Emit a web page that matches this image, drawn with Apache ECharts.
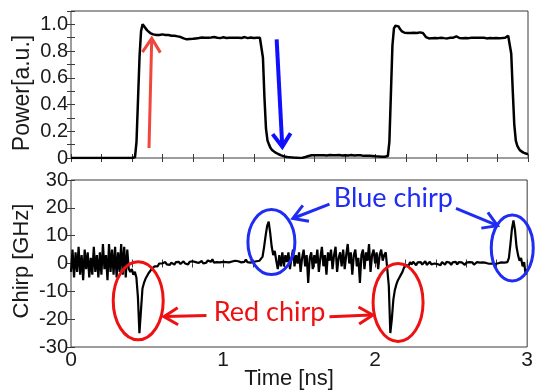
<!DOCTYPE html>
<html>
<head>
<meta charset="utf-8">
<script src="https://cdn.jsdelivr.net/npm/echarts@6/dist/echarts.min.js"></script>
<style>
  html, body { margin: 0; padding: 0; background: #fff; }
  #chart { width: 536px; height: 392px; }
</style>
</head>
<body>
<div id="chart"></div>
<script>
// Sampling of both traces: one point every 10 ps from 0 to 3 ns
const timeStart = 0;
const timeStep = 0.01;

// Optical power, normalised (a.u.)
const power = [
  0, 0, 0, 0, 0, 0, 0, 0, 0, 0,
  0, 0, 0, 0, 0, 0, 0, 0, 0, 0,
  0, 0, 0, 0, 0, 0, 0, 0, 0, 0,
  0, 0, 0, 0, 0, 0, 0, 0, 0, 0,
  0, 0, 0.005, 0.12, 0.44, 0.76, 0.95, 1.00, 0.99, 0.97,
  0.955, 0.945, 0.935, 0.93, 0.925, 0.925, 0.92, 0.925, 0.92, 0.92,
  0.925, 0.92, 0.92, 0.915, 0.92, 0.92, 0.915, 0.92, 0.915, 0.915,
  0.91, 0.91, 0.905, 0.90, 0.895, 0.89, 0.888, 0.888, 0.89, 0.888,
  0.892, 0.895, 0.895, 0.90, 0.898, 0.90, 0.902, 0.898, 0.90, 0.905,
  0.90, 0.898, 0.902, 0.90, 0.905, 0.898, 0.90, 0.902, 0.897, 0.90,
  0.903, 0.90, 0.898, 0.902, 0.90, 0.897, 0.90, 0.904, 0.90, 0.898,
  0.90, 0.902, 0.898, 0.90, 0.905, 0.90, 0.897, 0.90, 0.902, 0.90,
  0.898, 0.902, 0.90, 0.905, 0.90, 0.895, 0.75, 0.45, 0.22, 0.13,
  0.10, 0.075, 0.06, 0.05, 0.042, 0.035, 0.03, 0.025, 0.02, 0.016,
  0.012, 0.01, 0.008, 0.006, 0.005, 0.004, 0.003, 0.002, 0.002, 0.001,
  0, 0, 0.002, 0.005, 0.008, 0.012, 0.015, 0.018, 0.02, 0.018,
  0.02, 0.022, 0.02, 0.018, 0.02, 0.022, 0.02, 0.02, 0.018, 0.02,
  0.022, 0.02, 0.02, 0.018, 0.02, 0.02, 0.022, 0.02, 0.018, 0.02,
  0.02, 0.02, 0.018, 0.02, 0.022, 0.02, 0.018, 0.02, 0.02, 0.018,
  0.02, 0.018, 0.016, 0.018, 0.016, 0.015, 0.016, 0.014, 0.015, 0.014,
  0.013, 0.012, 0.012, 0.011, 0.01, 0.01, 0.01, 0.01, 0.015, 0.12,
  0.48, 0.84, 0.97, 0.99, 0.995, 0.985, 0.965, 0.95, 0.94, 0.937,
  0.937, 0.935, 0.937, 0.935, 0.933, 0.937, 0.935, 0.935, 0.937, 0.94,
  0.94, 0.935, 0.92, 0.905, 0.897, 0.895, 0.895, 0.897, 0.895, 0.898,
  0.895, 0.897, 0.895, 0.90, 0.895, 0.897, 0.90, 0.895, 0.898, 0.90,
  0.897, 0.90, 0.905, 0.91, 0.905, 0.898, 0.90, 0.897, 0.90, 0.898,
  0.90, 0.897, 0.895, 0.90, 0.898, 0.90, 0.896, 0.90, 0.898, 0.90,
  0.897, 0.90, 0.898, 0.895, 0.90, 0.898, 0.90, 0.897, 0.90, 0.898,
  0.90, 0.897, 0.90, 0.898, 0.895, 0.90, 0.905, 0.915, 0.92, 0.78,
  0.50, 0.25, 0.13, 0.09, 0.07, 0.055, 0.047, 0.04, 0.035, 0.032,
  0.03
];

// Frequency chirp (GHz)
const chirp = [
  -3, 5, -5, 4, -3, 6, -4, 3, -6, 5,
  -2, 4, -5, 2, -4, 6, -3, 3, -5, 4,
  -4, 7, -2, 3, -6, 7, -3, 5, -4, 6,
  -5, 4, -3, 7, -4, 6, -5, 5, -2, -3,
  -2, -4, -3, -5, -12, -25, -17, -9, -7, -5.5,
  -4.5, -3.5, -3, -2, -1.5, -1, -0.5, -1, 0, -0.5,
  0, -0.5, 0.5, -0.3, 0.2, -0.5, 0.3, 0, -0.4, 0.5,
  0, 0.6, -0.2, 0.4, 0.8, 0, 0.5, -0.3, 0.6, 0.2,
  0.8, 0.1, 0.5, 1.2, 0.2, 0.6, 0.9, 0, 0.7, 0.3,
  1.1, 0.4, 0.6, 1.5, 0.3, 0.8, 0.5, 1.2, 0.4, 0.9,
  0.6, 1.3, 0.5, 0.9, 0.4, 1.1, 0.7, 0.3, 1.0, 0.5,
  0.8, 1.2, 0.4, 0.9, 0.6, 1.4, 0.5, 0.8, 0.3, 1.0,
  0.6, 1.2, 0.8, 0.5, 1.0, 1.5, 2.5, 6, 10, 13.5,
  15, 11, 6, 3, 4.5, 1, -2, 3, -1, 4,
  -1, 3, 0.5, 4, -2, 2, 5, -1, 3, 0,
  4, -3, 2, 5, -1, 3, -7, 2, 4, -2,
  3, 0, 5, -3, 2, 6, -1, 3, -4, 4,
  1, 5, -2, 3, 6, -3, 2, 4, -1, 5,
  -2, 3, 7, 0, 4, -4, 3, 5, -1, 2,
  -7, 3, 5, -2, 4, 1, 7, -3, 3, 5,
  0, 4, -2, 3, 5, 1, 3, 4, -2, -8,
  -25, -20, -13, -9.5, -7.5, -6, -5, -4, -3, -1.5,
  -0.5, 0, -0.8, 0.5, -0.3, 0.6, 0, -0.6, 0.4, -0.2,
  0.5, -0.4, 0.3, 0.8, -0.5, 0.2, 0.6, -0.3, 0.4, 0,
  0.7, -0.2, 0.4, -0.6, 0.5, 0.2, -0.4, 0.6, 0, 0.3,
  -0.5, 0.4, 0.1, 0.6, -0.3, 0.5, -0.2, 0.4, 0, -0.5,
  0.3, -0.2, 0.5, 0, 0.4, -0.4, 0.2, 0.5, -0.2, 0.3,
  0, 0.4, -0.3, 0.2, 0.5, -0.1, 0.3, 0, 0.4, -0.2,
  0.3, 0.1, -0.2, 0.4, 0, 0.3, 1.0, 0.5, 2, 7,
  12.5, 15.5, 12, 6, 3, 1, 2, -1, 0.5, -4,
  -2
];

// Axis ranges and tick spacing
const timeRange = [0, 3];
const timeTickStep = 0.2;
const powerRange = [0, 1.1];
const powerTickStep = 0.1;
const chirpRange = [-30, 30];
const chirpTickStep = 10;

// Axis titles and annotation texts
const powerTitle = 'Power[a.u.]';
const chirpTitle = 'Chirp [GHz]';
const timeTitle = 'Time [ns]';
const redLabel = 'Red chirp';
const blueLabel = 'Blue chirp';

const toPairs = (vals) => vals.map((v, i) => [+(timeStart + i * timeStep).toFixed(2), v]);

const FRAME = '#3a3a3a';
const TEXT = '#1a1a1a';
const FONT = 'Liberation Sans';
const RED = '#ee1111';
const BLUE = '#1f2cf2';

function frameAxis(extra) {
  return Object.assign({
    type: 'value',
    axisLine: { show: false },
    axisTick: { show: true, inside: true, length: 4, lineStyle: { color: FRAME, width: 1 } },
    axisLabel: { show: false },
    splitLine: { show: false }
  }, extra);
}

const chart = echarts.init(document.getElementById('chart'), null, { renderer: 'canvas' });

const option = {
  animation: false,
  backgroundColor: '#fff',
  grid: [
    { left: 71, top: 11, right: 8, height: 147, show: true, borderColor: FRAME, borderWidth: 1 },
    { left: 71, top: 180, right: 8, height: 167, show: true, borderColor: FRAME, borderWidth: 1 }
  ],
  xAxis: [
    frameAxis({ gridIndex: 0, position: 'bottom', min: timeRange[0], max: timeRange[1], interval: timeTickStep }),
    frameAxis({
      gridIndex: 1, position: 'bottom', min: timeRange[0], max: timeRange[1], interval: timeTickStep,
      axisLabel: {
        show: true, margin: 3, color: TEXT, fontSize: 21, fontFamily: FONT,
        formatter: (v) => Math.abs(v - Math.round(v)) < 1e-6 ? String(Math.round(v)) : ''
      }
    }),
    frameAxis({ gridIndex: 0, position: 'top', min: timeRange[0], max: timeRange[1], interval: timeTickStep }),
    frameAxis({ gridIndex: 1, position: 'top', min: timeRange[0], max: timeRange[1], interval: timeTickStep })
  ],
  yAxis: [
    frameAxis({
      gridIndex: 0, position: 'left', min: powerRange[0], max: powerRange[1], interval: powerTickStep,
      axisLabel: {
        show: true, margin: 3, color: TEXT, fontSize: 20, fontFamily: FONT,
        formatter: (v) => {
          const k = Math.round(v * 10);
          if (k % 2 !== 0 || k > 10) return '';
          return k === 0 ? '0' : (k / 10).toFixed(1);
        }
      }
    }),
    frameAxis({
      gridIndex: 1, position: 'left', min: chirpRange[0], max: chirpRange[1], interval: chirpTickStep,
      axisLabel: { show: true, margin: 3, color: TEXT, fontSize: 20, fontFamily: FONT }
    }),
    frameAxis({ gridIndex: 0, position: 'right', min: powerRange[0], max: powerRange[1], interval: powerTickStep }),
    frameAxis({ gridIndex: 1, position: 'right', min: chirpRange[0], max: chirpRange[1], interval: chirpTickStep })
  ],
  series: [
    {
      type: 'line', xAxisIndex: 0, yAxisIndex: 0, data: toPairs(power),
      showSymbol: false, clip: true, lineStyle: { color: '#000', width: 2.5 }, z: 5
    },
    {
      type: 'line', xAxisIndex: 1, yAxisIndex: 1, data: toPairs(chirp),
      showSymbol: false, clip: true, lineStyle: { color: '#000', width: 2.2 }, z: 5
    }
  ]
};

chart.setOption(option);

// Annotation helpers: anchors are given in data units of each panel
const px = (grid, pt) => chart.convertToPixel({ gridIndex: grid }, pt);

function arrow(grid, from, to, color, lw, headLen, headHalf) {
  const a = px(grid, from), b = px(grid, to);
  const dx = b[0] - a[0], dy = b[1] - a[1];
  const L = Math.hypot(dx, dy), ux = dx / L, uy = dy / L;
  const bx = b[0] - ux * headLen, by = b[1] - uy * headLen;
  const nx = -uy, ny = ux;
  const tip = [b[0], b[1]];
  return [
    { type: 'polyline', z: 100, shape: { points: [a, [b[0] - ux * lw * 0.6, b[1] - uy * lw * 0.6]] },
      style: { stroke: color, lineWidth: lw, fill: 'none' } },
    { type: 'polyline', z: 100,
      shape: { points: [[bx + nx * headHalf, by + ny * headHalf], tip, [bx - nx * headHalf, by - ny * headHalf]] },
      style: { stroke: color, lineWidth: lw, fill: 'none', lineJoin: 'miter' } }
  ];
}

function ring(grid, center, rx, ry, color, lw) {
  const c = px(grid, center);
  return { type: 'ellipse', z: 100, shape: { cx: c[0], cy: c[1], rx: rx, ry: ry },
    style: { stroke: color, lineWidth: lw, fill: 'none' } };
}

function label(grid, at, text, color, font) {
  const c = px(grid, at);
  return { type: 'text', z: 100, x: c[0], y: c[1],
    style: { text: text, fill: color, font: font, align: 'center', verticalAlign: 'middle' } };
}

const annFont = '27px Lato';
const titleFont = (size) => size + 'px "Liberation Sans"';
const graphics = [].concat(
  // rising and falling edges in the power trace
  arrow(0, [0.512, 0.075], [0.53, 0.895], '#f0463c', 3, 14, 9),
  arrow(0, [1.35, 0.888], [1.387, 0.085], '#1010ff', 4, 13, 9),
  // chirp features
  ring(1, [0.442, -13.4], 25, 39, RED, 3),
  ring(1, [2.151, -14.0], 25, 39, RED, 3),
  ring(1, [1.318, 7.7], 23.5, 32.5, BLUE, 3),
  ring(1, [2.902, 5.6], 21, 33, BLUE, 3),
  arrow(1, [0.891, -18.7], [0.611, -19.1], RED, 3, 14, 8.5),
  arrow(1, [1.70, -19.1], [1.985, -18.5], RED, 3, 14, 8.5),
  arrow(1, [1.70, 21.3], [1.459, 16.2], BLUE, 3, 14, 8.5),
  arrow(1, [2.532, 19.8], [2.805, 13.6], BLUE, 3, 14, 8.5),
  [
    label(1, [1.306, -17.4], redLabel, RED, annFont),
    label(1, [2.12, 23.6], blueLabel, BLUE, annFont),
    { type: 'text', z: 100, x: 23, y: 93, rotation: Math.PI / 2,
      style: { text: powerTitle, fill: TEXT, font: titleFont(23), align: 'center', verticalAlign: 'middle' } },
    { type: 'text', z: 100, x: 22, y: 261, rotation: Math.PI / 2,
      style: { text: chirpTitle, fill: TEXT, font: titleFont(22), align: 'center', verticalAlign: 'middle' } },
    { type: 'text', z: 100, x: 289, y: 379,
      style: { text: timeTitle, fill: TEXT, font: titleFont(22), align: 'center', verticalAlign: 'middle' } }
  ]
);

chart.setOption({ graphic: graphics });
</script>
</body>
</html>
